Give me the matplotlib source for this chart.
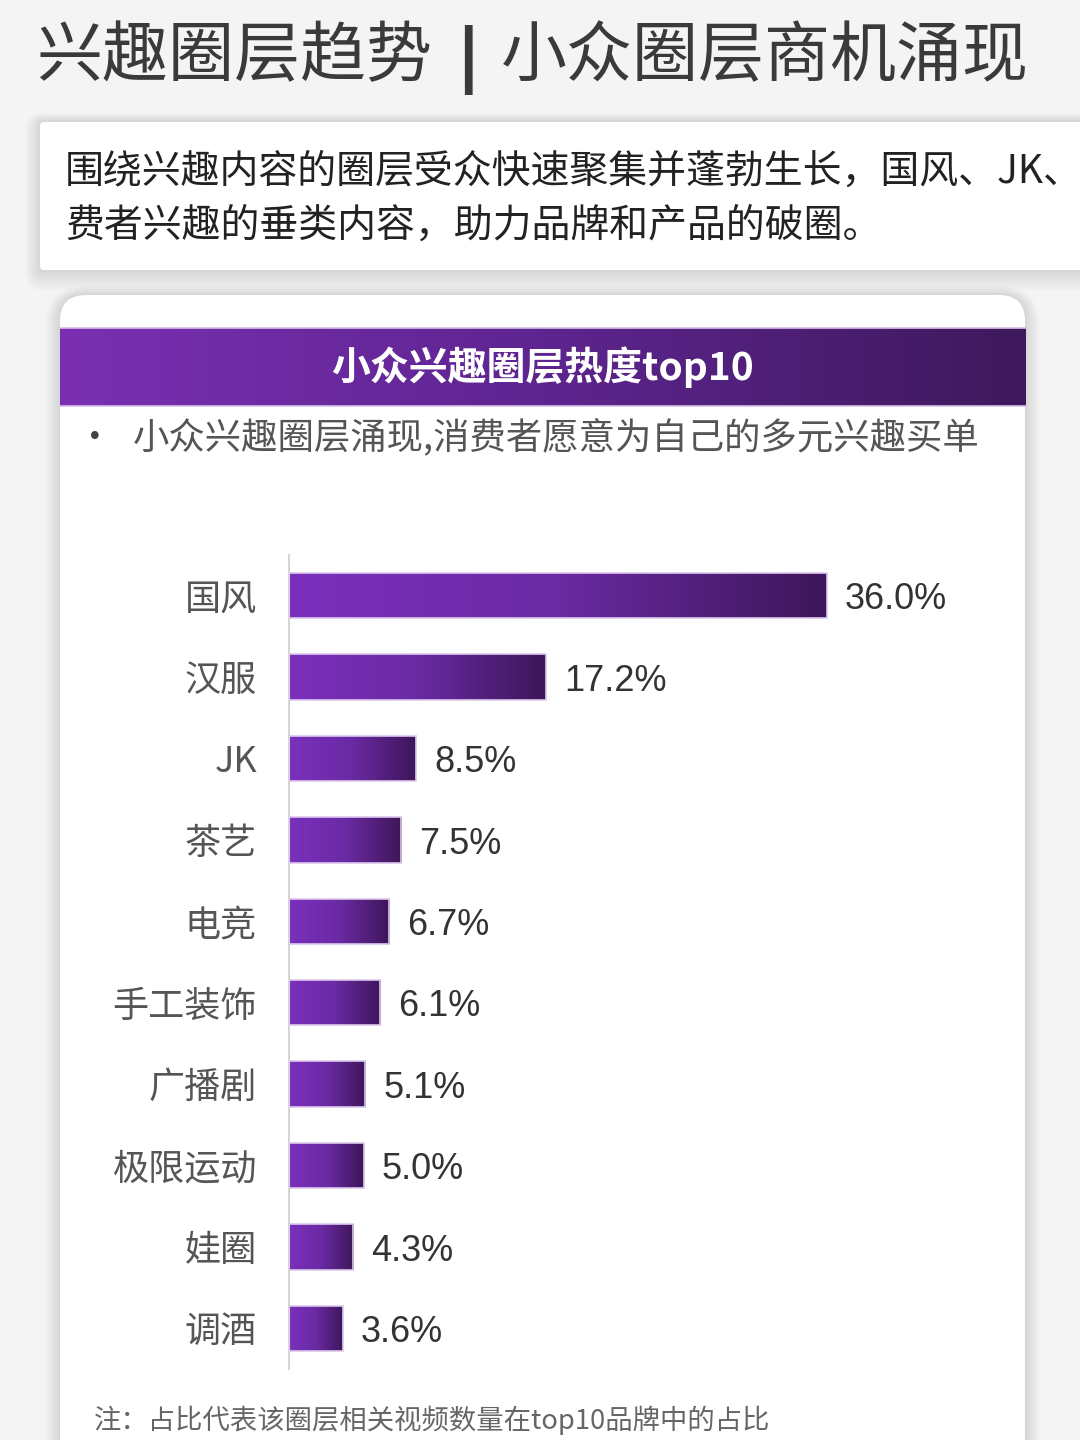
import matplotlib

matplotlib.use("Agg")
import matplotlib.pyplot as plt
import numpy as np
from matplotlib.colors import LinearSegmentedColormap
from matplotlib.patches import FancyBboxPatch

plt.rcParams["font.family"] = ["Noto Sans CJK SC", "DejaVu Sans"]

# data
categories = ["国风", "汉服", "JK", "茶艺", "电竞", "手工装饰", "广播剧", "极限运动", "娃圈", "调酒"]
shares = [36.0, 17.2, 8.5, 7.5, 6.7, 6.1, 5.1, 5.0, 4.3, 3.6]
value_labels = ["36.0%", "17.2%", "8.5%", "7.5%", "6.7%", "6.1%", "5.1%", "5.0%", "4.3%", "3.6%"]

title_left = "兴趣圈层趋势"
title_right = "小众圈层商机涌现"
intro_lines = [
    "围绕兴趣内容的圈层受众快速聚集并蓬勃生长，国风、JK、",
    "费者兴趣的垂类内容，助力品牌和产品的破圈。",
]
card_title = "小众兴趣圈层热度top10"
bullet_text = "小众兴趣圈层涌现,消费者愿意为自己的多元兴趣买单"
footnote = "注：占比代表该圈层相关视频数量在top10品牌中的占比"

header_cmap = LinearSegmentedColormap.from_list("header", ["#7a2fb2", "#5e2590", "#3e195c"])
bar_cmap = LinearSegmentedColormap.from_list("bar", ["#7b30bd", "#6a2aa3", "#3d1659"])
gradient = np.linspace(0, 1, 256).reshape(1, -1)

fig = plt.figure(figsize=(10.8, 14.4), dpi=100)
fig.patch.set_facecolor("#f4f4f4")

# page layer in pixel coordinates
bg = fig.add_axes([0, 0, 1, 1])
bg.axis("off")


def shadowed_box(x, y, w, h, radius):
    for k in range(1, 16):
        bg.add_patch(
            FancyBboxPatch(
                (x - k, y - k * 0.6), w + 2 * k, h + 2 * k,
                boxstyle=f"round,pad=0,rounding_size={radius + k}",
                facecolor="#9a9a9a", edgecolor="none", alpha=0.018, zorder=1,
            )
        )
    bg.add_patch(
        FancyBboxPatch(
            (x, y), w, h, boxstyle=f"round,pad=0,rounding_size={radius}",
            facecolor="white", edgecolor="none", zorder=2,
        )
    )


shadowed_box(40, 122, 1070, 148, 4)
shadowed_box(60, 295, 965, 1200, 26)

bg.text(36, 57, title_left, fontsize=47.5, color="#3a3a3a", va="center", ha="left", zorder=5)
bg.text(468, 60, "|", fontsize=50, fontweight="bold", color="#3a3a3a",
        va="center", ha="center", family=["DejaVu Sans"], zorder=5)
bg.text(501, 57, title_right, fontsize=47.5, color="#3a3a3a", va="center", ha="left", zorder=5)
bg.text(65, 172, intro_lines[0], fontsize=28, color="#222222", va="center", ha="left", zorder=5)
bg.text(65, 226, intro_lines[1], fontsize=28, color="#222222", va="center", ha="left", zorder=5)

bg.imshow(gradient, extent=(60, 1026, 406, 328), cmap=header_cmap, aspect="auto", zorder=3)
bg.plot([60, 1026], [328, 328], color="#d7bfe9", lw=1.2, zorder=4)
bg.plot([60, 1026], [406, 406], color="#d7bfe9", lw=1.2, zorder=4)
bg.text(543, 367, card_title, fontsize=28, fontweight="bold", color="white",
        va="center", ha="center", zorder=5)

bg.text(95, 438, "•", fontsize=19, color="#444444", va="center", ha="center",
        family=["DejaVu Sans"], zorder=5)
bg.text(133, 437, bullet_text, fontsize=26.2, color="#555555", va="center", ha="left", zorder=5)
bg.text(94, 1420, footnote, fontsize=19.7, color="#666666", va="center", ha="left", zorder=5)

bg.set_xlim(0, 1080)
bg.set_ylim(1440, 0)

# chart
ax = fig.add_axes([289 / 1080, 1 - 1369 / 1440, 711 / 1080, 814 / 1440])
ax.set_facecolor("none")
positions = np.arange(len(categories))

bars = ax.barh(positions, shares, height=0.56, color="none",
               edgecolor="#dcc8ec", linewidth=1.2, zorder=3)
for bar in bars:
    x0, y0 = bar.get_x(), bar.get_y()
    w, h = bar.get_width(), bar.get_height()
    im = ax.imshow(gradient, extent=(x0, x0 + w, y0 + h, y0), cmap=bar_cmap,
                   aspect="auto", zorder=2)
    im.set_clip_path(bar)

for pos, value, label in zip(positions, shares, value_labels):
    ax.annotate(label, (value, pos), xytext=(13, -3), textcoords="offset points",
                va="center", ha="left", fontsize=26, color="#333333",
                family=["Liberation Sans", "DejaVu Sans"])

ax.set_xlim(0, 47.6)
ax.set_ylim(9.5, -0.5)
ax.set_yticks(positions, labels=categories, fontsize=26, color="#555555")
ax.set_xticks([])
ax.tick_params(axis="y", length=0, pad=23)
for side in ["top", "right", "bottom"]:
    ax.spines[side].set_visible(False)
ax.spines["left"].set_color("#d6d6d6")
ax.spines["left"].set_linewidth(1.5)

fig.savefig("out.png", dpi=100, facecolor=fig.get_facecolor())
